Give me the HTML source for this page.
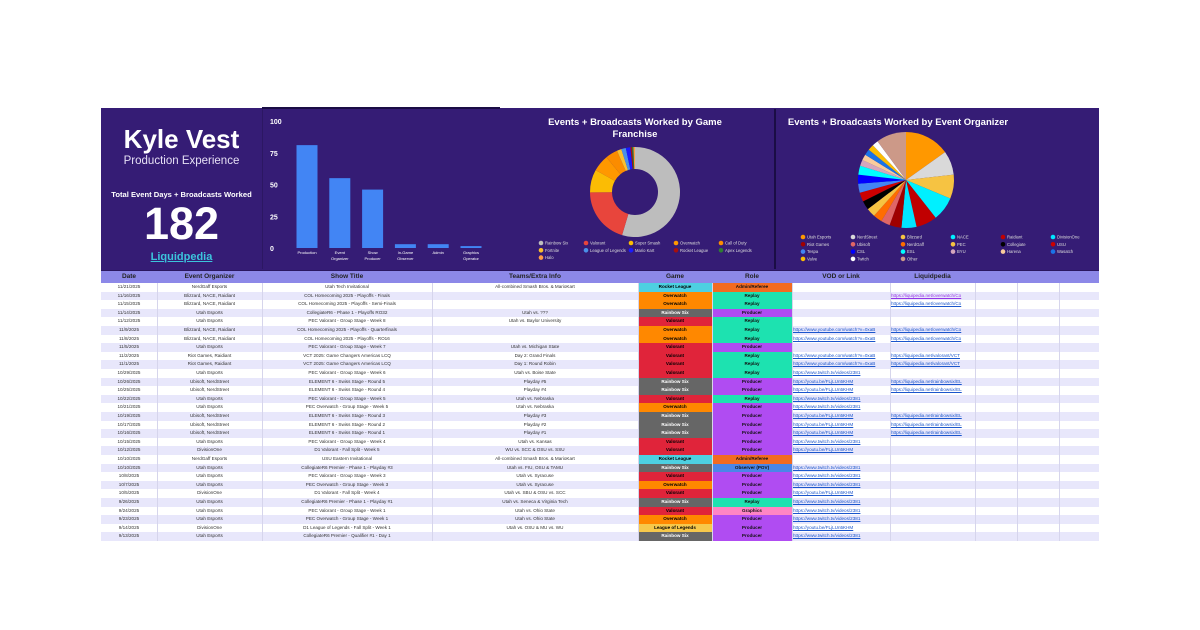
<!DOCTYPE html>
<html><head><meta charset="utf-8"><style>
body{margin:0;width:1200px;height:630px;background:#fff;position:relative;overflow:hidden;font-family:"Liberation Sans",sans-serif}
#hdr{position:absolute;left:101px;top:108px;width:998px;height:162px;background:#351c75}
.abs{position:absolute}
.cell{position:absolute;height:8.6px;line-height:8.6px;font-size:4.6px;text-align:center;white-space:nowrap;overflow:hidden;color:#333}
.hc{position:absolute;top:271px;height:11px;line-height:11px;font-size:6.5px;font-weight:bold;text-align:center;color:#222;}
</style></head><body>
<div id="hdr"></div>
<div class="abs" style="left:262px;top:107px;width:238px;height:2px;background:#1a0d45"></div>
<div class="abs" style="left:774px;top:109px;width:2px;height:160px;background:#1a0d45"></div>
<div class="abs" style="left:262px;top:109px;width:1px;height:160px;background:#2c1763"></div>
<div class="abs" style="left:101px;top:124px;width:161px;text-align:center;color:#fff;font-weight:bold;font-size:26px">Kyle Vest</div>
<div class="abs" style="left:101px;top:155px;width:161px;text-align:center;color:#e6e0f5;font-size:11.5px">Production Experience</div>
<div class="abs" style="left:101px;top:190px;width:161px;text-align:center;color:#fff;font-weight:bold;font-size:7.6px">Total Event Days + Broadcasts Worked</div>
<div class="abs" style="left:101px;top:199px;width:161px;text-align:center;color:#fff;font-weight:bold;font-size:45px;line-height:50px">182</div>
<div class="abs" style="left:101px;top:251px;width:161px;text-align:center;color:#3cc4dc;font-weight:bold;font-size:11px;text-decoration:underline">Liquidpedia</div>

<svg id="bar" class="abs" style="left:262px;top:108px" width="238" height="162"></svg>
<svg id="donut" class="abs" style="left:500px;top:108px" width="275" height="162"></svg>
<svg id="pie" class="abs" style="left:776px;top:108px" width="323" height="162"></svg>

<div id="tbl"></div>
<script>
const barCats=["Production","Event Organizer","Show Producer","In-Game Observer","Admin","Graphics Operator"];
const barVals=[81,55,46,3,3,1.5];
const barTicks=[0,25,50,75,100];
const gameCats=["Rainbow Six","Valorant","Super Smash","Overwatch","Call of Duty","Fortnite","League of Legends","Mario Kart","Rocket League","Apex Legends","Halo"];
const gameVals=[100,37,15,11,8,3,3,3,1,1,1];
const gameCols=["#bdbdbd","#e8453c","#fbbc04","#ff9800","#fb8c00","#fbc02d","#4a90e8","#1a1aff","#a50f0f","#2e7d32","#ff9b45"];
const orgCats=["Utah Esports","NerdStreet","Blizzard","NACE","Raidiant","DivisionOne","Riot Games","Ubisoft","NerdGaff","PEC","Collegiate","USU","Tespa","CSL","ESL","BYU","Harena","Wasatch","Valve","Twitch","Other"];
const orgVals=[15,8,8,8,7,5,4,3,3,3,3,3,3,3,3,2,2,2,2,2,10];
const orgCols=["#ff9800","#d9d9d9","#f6c342","#00f0ff","#c00000","#00e5ff","#a00000","#e06666","#ff6d00","#f6c342","#000000","#cc0000","#4285f4","#0000ff","#00ffff","#d5a6bd","#f9cb9c","#1a73e8","#fbbc04","#ffffff","#c98"];
const NS="http://www.w3.org/2000/svg";
function mk(svg,tag,at){const e=document.createElementNS(NS,tag);for(const k in at)e.setAttribute(k,at[k]);svg.appendChild(e);return e;}
// bar chart
const bs=document.getElementById('bar');
const y0=140,yS=127/100;const yv=v=>y0-v*yS;const xv=i=>45+i*32.8;
barTicks.forEach(t=>{const tx=mk(bs,'text',{x:8,y:yv(t)+3,fill:'#fff','font-size':7,'font-weight':'bold'});tx.textContent=t;

});
barVals.forEach((v,i)=>{const r=mk(bs,'rect',{x:xv(i)-10.5,y:yv(v),width:21,height:v*yS,fill:'#4285f4'});


const w=barCats[i].split(' ');const t=mk(bs,'text',{x:xv(i),y:y0+6,fill:'#fff','font-size':4,'text-anchor':'middle'});t.textContent=w[0];


if(w[1]){const t2=mk(bs,'text',{x:xv(i),y:y0+12,fill:'#fff','font-size':4,'text-anchor':'middle'});t2.textContent=w.slice(1).join(' ');

}});
function arc(cx,cy,r,ri,a0,a1){const p=(a,rr)=>[cx+rr*Math.sin(a),cy-rr*Math.cos(a)];const lg=(a1-a0)>Math.PI?1:0;
const [x0,y0_]=p(a0,r),[x1,y1]=p(a1,r);
if(ri>0){const [x2,y2]=p(a1,ri),[x3,y3]=p(a0,ri);return `M${x0},${y0_}A${r},${r} 0 ${lg} 1 ${x1},${y1}L${x2},${y2}A${ri},${ri} 0 ${lg} 0 ${x3},${y3}Z`;}
return `M${cx},${cy}L${x0},${y0_}A${r},${r} 0 ${lg} 1 ${x1},${y1}Z`;}
function pie(svg,vals,cols,cx,cy,r,ri,nm){const tot=vals.reduce((a,b)=>a+b,0);let a=0;vals.forEach((v,i)=>{const a1=a+v/tot*2*Math.PI;const p=mk(svg,'path',{d:arc(cx,cy,r,ri,a,a1),fill:cols[i%cols.length]});

a=a1;});}
function legend(svg,cats,cols,x0,y0,cw,perRow,nm){cats.forEach((c,i)=>{const row=Math.floor(i/perRow),col=i%perRow;const x=x0+col*cw,y=y0+row*7.3;
const ci=mk(svg,'circle',{cx:x,cy:y,r:2.3,fill:cols[i%cols.length]});


const t=mk(svg,'text',{x:x+4,y:y+1.6,fill:'#ddd','font-size':4.2});t.textContent=c;

});}
const ds=document.getElementById('donut');
[["Events + Broadcasts Worked by Game",17],["Franchise",29]].forEach(([s,y])=>{const t=mk(ds,'text',{x:135,y:y,fill:'#fff','font-size':9.5,'font-weight':'bold','text-anchor':'middle'});t.textContent=s;

});
pie(ds,gameVals,gameCols,135,84,45,23,'game');
legend(ds,gameCats,gameCols,41,135,45,5,'game');
const ps=document.getElementById('pie');
const pt=mk(ps,'text',{x:122,y:17,fill:'#fff','font-size':9.5,'font-weight':'bold','text-anchor':'middle'});pt.textContent="Events + Broadcasts Worked by Event Organizer";


pie(ps,orgVals,orgCols,130,72,48,0,'org');
legend(ps,orgCats,orgCols,27,129,50,6,'org');

// table
const rows=[
["11/21/2025","NerdGaff Esports","Utah Tech Invitational","All-combined Smash Bros. & MarioKart","RL","Admin/Referee","",""],
["11/16/2025","Blizzard, NACE, Raidiant","COL Homecoming 2025 - Playoffs - Finals","","OW","Replay","","o"],
["11/15/2025","Blizzard, NACE, Raidiant","COL Homecoming 2025 - Playoffs - Semi-Finals","","OW","Replay","","o"],
["11/14/2025","Utah Esports","CollegiateR6 - Phase 1 - Playoffs RO32","Utah vs. ???","R6","Producer","",""],
["11/12/2025","Utah Esports","PEC Valorant - Group Stage - Week 8","Utah vs. Baylor University","VAL","Replay","",""],
["11/9/2025","Blizzard, NACE, Raidiant","COL Homecoming 2025 - Playoffs - Quarterfinals","","OW","Replay","y","o"],
["11/8/2025","Blizzard, NACE, Raidiant","COL Homecoming 2025 - Playoffs - RO16","","OW","Replay","y","o"],
["11/5/2025","Utah Esports","PEC Valorant - Group Stage - Week 7","Utah vs. Michigan State","VAL","Producer","",""],
["11/2/2025","Riot Games, Raidiant","VCT 2025: Game Changers Americas LCQ","Day 2: Grand Finals","VAL","Replay","y","v"],
["11/1/2025","Riot Games, Raidiant","VCT 2025: Game Changers Americas LCQ","Day 1: Round Robin","VAL","Replay","y","v"],
["10/29/2025","Utah Esports","PEC Valorant - Group Stage - Week 6","Utah vs. Boise State","VAL","Replay","t",""],
["10/26/2025","Ubisoft, NerdStreet","ELEMENT 6 - Swiss Stage - Round 5","Playday #5","R6","Producer","b","r"],
["10/25/2025","Ubisoft, NerdStreet","ELEMENT 6 - Swiss Stage - Round 4","Playday #4","R6","Producer","b","r"],
["10/22/2025","Utah Esports","PEC Valorant - Group Stage - Week 5","Utah vs. Nebraska","VAL","Replay","t",""],
["10/21/2025","Utah Esports","PEC Overwatch - Group Stage - Week 5","Utah vs. Nebraska","OW","Producer","t",""],
["10/19/2025","Ubisoft, NerdStreet","ELEMENT 6 - Swiss Stage - Round 3","Playday #3","R6","Producer","b","r"],
["10/17/2025","Ubisoft, NerdStreet","ELEMENT 6 - Swiss Stage - Round 2","Playday #2","R6","Producer","b","r"],
["10/16/2025","Ubisoft, NerdStreet","ELEMENT 6 - Swiss Stage - Round 1","Playday #1","R6","Producer","b","r"],
["10/15/2025","Utah Esports","PEC Valorant - Group Stage - Week 4","Utah vs. Kansas","VAL","Producer","t",""],
["10/12/2025","DivisionOne","D1 Valorant - Fall Split - Week 5","WU vs. SCC & OSU vs. SSU","VAL","Producer","b",""],
["10/10/2025","NerdGaff Esports","USU Eastern Invitational","All-combined Smash Bros. & MarioKart","RL","Admin/Referee","",""],
["10/10/2025","Utah Esports","CollegiateR6 Premier - Phase 1 - Playday #3","Utah vs. FIU, OSU & TAMU","R6","Observer (POV)","t",""],
["10/8/2025","Utah Esports","PEC Valorant - Group Stage - Week 3","Utah vs. Syracuse","VAL","Producer","t",""],
["10/7/2025","Utah Esports","PEC Overwatch - Group Stage - Week 3","Utah vs. Syracuse","OW","Producer","t",""],
["10/5/2025","DivisionOne","D1 Valorant - Fall Split - Week 4","Utah vs. SBU & OSU vs. SCC","VAL","Producer","b",""],
["9/26/2025","Utah Esports","CollegiateR6 Premier - Phase 1 - Playday #1","Utah vs. Seneca & Virginia Tech","R6","Replay","t",""],
["9/24/2025","Utah Esports","PEC Valorant - Group Stage - Week 1","Utah vs. Ohio State","VAL","Graphics","t",""],
["9/23/2025","Utah Esports","PEC Overwatch - Group Stage - Week 1","Utah vs. Ohio State","OW","Producer","t",""],
["9/14/2025","DivisionOne","D1 League of Legends - Fall Split - Week 1","Utah vs. OSU & MU vs. WU","LOL","Producer","b",""],
["9/13/2025","Utah Esports","CollegiateR6 Premier - Qualifier #1 - Day 1","","R6","Producer","t",""]];
const games={RL:["Rocket League","#4dd0e1","#000"],OW:["Overwatch","#ff8800","#000"],R6:["Rainbow Six","#666666","#fff"],VAL:["Valorant","#e0243a","#000"],LOL:["League of Legends","#f6c84c","#000"]};
const roles={"Admin/Referee":"#f26b21","Replay":"#1de2b0","Producer":"#b04cf2","Observer (POV)":"#4a86e8","Graphics":"#ff85c4"};
const vods={y:"https://www.youtube.com/watch?v=0xaB",t:"https://www.twitch.tv/videos/2381",b:"https://youtu.be/FLjLUn5KHM"};
const lps={o:"https://liquipedia.net/overwatch/Co",v:"https://liquipedia.net/valorant/VCT",r:"https://liquipedia.net/rainbowsix/EL"};
const cx=[101,157,262,432,638,712,792,890,975,1017,1059,1099];
const heads=["Date","Event Organizer","Show Title","Teams/Extra Info","Game","Role","VOD or Link","Liquidpedia","","",""];
const T=document.getElementById('tbl');
const hb=document.createElement('div');hb.className='abs';hb.style.cssText='left:101px;top:270px;width:998px;height:12px;background:#8c88e8;border-top:1px solid #2a1660';


T.appendChild(hb);
heads.forEach((h,i)=>{const d=document.createElement('div');d.className='hc';d.style.left=cx[i]+'px';d.style.width=(cx[i+1]-cx[i])+'px';d.textContent=h;


T.appendChild(d);});
const RH=8.6,RT=283;
rows.forEach((r,i)=>{const top=RT+i*RH;
const bg=document.createElement('div');bg.className='abs';bg.style.cssText=`left:101px;top:${top}px;width:998px;height:${RH}px;background:${i%2?'#e8e7fb':'#fff'}`;


T.appendChild(bg);
const g=games[r[4]];
const vals=[r[0],r[1],r[2],r[3],g[0],r[5],r[6]?vods[r[6]]:"",r[7]?lps[r[7]]:""];
vals.forEach((v,j)=>{const d=document.createElement('div');d.className='cell';d.style.left=cx[j]+'px';d.style.width=(cx[j+1]-cx[j])+'px';d.style.top=top+'px';d.textContent=v;
if(j==4){d.style.background=g[1];d.style.color=g[2];d.style.fontWeight='bold';}
if(j==5){d.style.background=roles[r[5]];d.style.color='#111';d.style.fontWeight='bold';}
if(j>=6){d.style.textAlign='left';d.style.color=(j==7&&i==1)?'#9334e6':'#1a55cc';d.style.textDecoration='underline';d.style.paddingLeft='1px';}


T.appendChild(d);});
});
cx.slice(1,-1).forEach(x=>{const l=document.createElement('div');l.className='abs';l.style.cssText=`left:${x}px;top:283px;width:1px;height:${RH*30}px;background:#d6d5ec`;


T.appendChild(l);});
</script>
</body></html>
